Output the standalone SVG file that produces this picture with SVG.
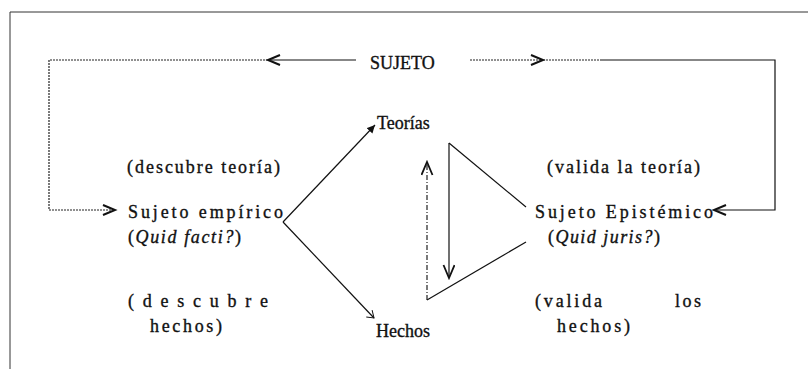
<svg xmlns="http://www.w3.org/2000/svg" width="808" height="369" viewBox="0 0 808 369">
<style>
text{font-family:"Liberation Serif","Times New Roman",serif;fill:#111;stroke:#111;stroke-width:0.35;font-size:18px}
.it{font-style:italic}
.ln{fill:none;stroke:#111;stroke-width:1.2}
.dot{fill:none;stroke:#222;stroke-width:1.2;stroke-dasharray:2 1}
.dash{fill:none;stroke:#222;stroke-width:1.2;stroke-dasharray:5 2 1 2}
.frame{fill:none;stroke:#333;stroke-width:1}
</style>
<defs>
<marker id="chev" markerUnits="userSpaceOnUse" markerWidth="16" markerHeight="14" refX="13" refY="6" orient="auto">
<path d="M1,1 L13,6 L1,11" fill="none" stroke="#111" stroke-width="2"/>
</marker>
<marker id="vchev" markerUnits="userSpaceOnUse" markerWidth="16" markerHeight="14" refX="14" refY="6" orient="auto">
<path d="M1,0.5 L14,6 L1,11.5" fill="none" stroke="#111" stroke-width="1.8"/>
</marker>
<marker id="tri" markerUnits="userSpaceOnUse" markerWidth="10" markerHeight="10" refX="8" refY="4" orient="auto">
<path d="M0,0 L8,4 L0,8 Z" fill="#111"/>
</marker>
<marker id="hook" markerUnits="userSpaceOnUse" markerWidth="12" markerHeight="12" refX="8" refY="5" orient="auto">
<path d="M1,1 L8,5 L2,10" fill="none" stroke="#111" stroke-width="1"/>
</marker>
</defs>
<g id="frame">
<path class="frame" d="M10,369 V12 H808"/>
</g>
<g id="connectors">
<path class="ln" d="M356,60 H268" marker-end="url(#chev)"/>
<path class="dot" d="M268,60 H49 V210 H115" marker-end="url(#chev)"/>
<path class="dot" d="M470,60 H543" marker-end="url(#chev)"/>
<path class="dot" d="M543,60 H600"/>
<path class="ln" d="M600,60 H775 V210 H714" marker-end="url(#chev)"/>
<path class="ln" d="M283,222 L375,125" marker-end="url(#tri)"/>
<path class="ln" d="M283,222 L374,318" marker-end="url(#hook)"/>
<path class="ln" d="M449,143 L526,207"/>
<path class="ln" d="M449,143 V278" marker-end="url(#vchev)"/>
<path class="dash" d="M427,300 V162" marker-end="url(#vchev)"/>
<path class="ln" d="M427,300 L526,242"/>
</g>
<g id="sujeto"><text x="370" y="69" font-size="21">SUJETO</text></g>
<g id="teorias"><text x="377" y="129">Teorías</text></g>
<g id="hechos"><text x="376" y="337">Hechos</text></g>
<g id="sujeto-empirico">
<text x="127" y="173" textLength="153" lengthAdjust="spacing">(descubre teoría)</text>
<text x="128" y="218" textLength="155" lengthAdjust="spacing">Sujeto empírico</text>
<text x="128" y="243" textLength="113" lengthAdjust="spacing">(<tspan class="it">Quid facti?</tspan>)</text>
<text x="128" y="307" textLength="140" lengthAdjust="spacing">(descubre</text>
<text x="150" y="332" textLength="72" lengthAdjust="spacing">hechos)</text>
</g>
<g id="sujeto-epistemico">
<text x="547" y="173" textLength="153" lengthAdjust="spacing">(valida la teoría)</text>
<text x="535" y="218" textLength="178" lengthAdjust="spacing">Sujeto Epistémico</text>
<text x="548" y="243" textLength="112" lengthAdjust="spacing">(<tspan class="it">Quid juris?</tspan>)</text>
<text x="535" y="307" textLength="67" lengthAdjust="spacing">(valida</text>
<text x="675" y="307" textLength="26" lengthAdjust="spacing">los</text>
<text x="557" y="332" textLength="73" lengthAdjust="spacing">hechos)</text>
</g>
</svg>
